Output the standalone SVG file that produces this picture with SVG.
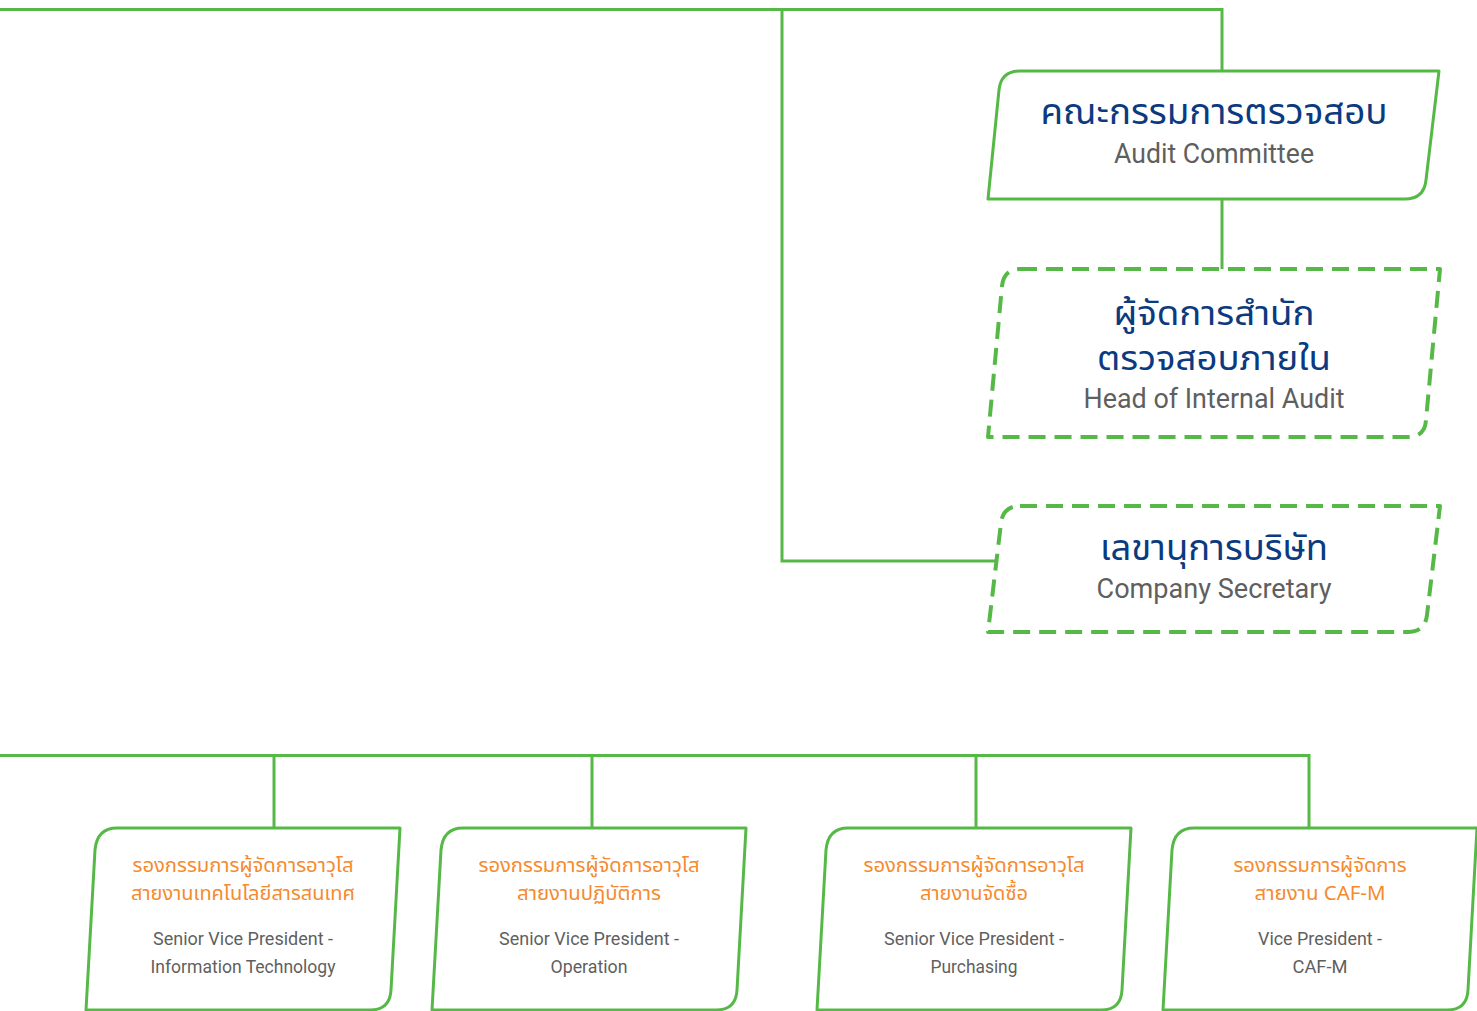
<svg xmlns="http://www.w3.org/2000/svg" width="1477" height="1011" viewBox="0 0 1477 1011">
<defs>
<style>
.box{fill:#ffffff;stroke:#56B947;stroke-width:3;stroke-linejoin:round}
.dash{fill:#ffffff;stroke:#56B947;stroke-width:4;stroke-dasharray:17 9;stroke-linejoin:round}
.conn{fill:none;stroke:#56B947;stroke-width:3}
.th{font-family:"Noto Sans Thai","Noto Sans","DejaVu Sans",sans-serif;fill:#0B3A80;text-anchor:middle}
.en{font-family:"Roboto","Liberation Sans",sans-serif;fill:#5F5F5F;text-anchor:middle}
.or{font-family:"Noto Sans Thai","Noto Sans","DejaVu Sans",sans-serif;fill:#F58A2E;text-anchor:middle;font-size:20px}
.sm{font-family:"Roboto","Liberation Sans",sans-serif;fill:#5F5F5F;text-anchor:middle;font-size:18px}
</style>
</defs>
<rect width="1477" height="1011" fill="#ffffff"/>
<g id="connectors">
<path class="conn" d="M0,9.5 H1222 V71"/>
<path class="conn" d="M782,9.5 V561 H998"/>
<path class="conn" d="M1222,199 V270"/>
<path class="conn" d="M0,755.5 H1309 V828"/>
<path class="conn" d="M274,755 V828"/>
<path class="conn" d="M592,755 V828"/>
<path class="conn" d="M976,755 V828"/>
</g>
<g id="audit-committee">
<path class="box" d="M1020,71 H1439 L1426,180 Q1424,199 1405,199 H988 L999,90 Q1001,71 1020,71 Z"/>
<text class="th" x="1214" y="124" font-size="35" textLength="347" lengthAdjust="spacingAndGlyphs">คณะกรรมการตรวจสอบ</text>
<text class="en" x="1214" y="163" font-size="27" textLength="200" lengthAdjust="spacingAndGlyphs">Audit Committee</text>
</g>
<g id="head-internal-audit">
<path class="dash" d="M1020,269 H1440 L1426,420 Q1425,437 1408,437 H988 L1002,286 Q1004,269 1020,269 Z"/>
<text class="th" x="1214" y="325" font-size="33" textLength="201" lengthAdjust="spacingAndGlyphs">ผู้จัดการสำนัก</text>
<text class="th" x="1214" y="370" font-size="33" textLength="234" lengthAdjust="spacingAndGlyphs">ตรวจสอบภายใน</text>
<text class="en" x="1214" y="408" font-size="27" textLength="261" lengthAdjust="spacingAndGlyphs">Head of Internal Audit</text>
</g>
<g id="company-secretary">
<path class="dash" d="M1020,506 H1440 L1427,615 Q1425,632 1408,632 H988 L1001,523 Q1003,506 1020,506 Z"/>
<text class="th" x="1214" y="560" font-size="35" textLength="228" lengthAdjust="spacingAndGlyphs">เลขานุการบริษัท</text>
<text class="en" x="1214" y="598" font-size="27" textLength="235" lengthAdjust="spacingAndGlyphs">Company Secretary</text>
</g>
<g id="svp-it">
<path class="box" d="M117,828 H400 L391,990 Q390,1010 370,1010 H86 L95,850 Q97,828 117,828 Z"/>
<text class="or" x="243" y="872" textLength="221" lengthAdjust="spacingAndGlyphs">รองกรรมการผู้จัดการอาวุโส</text>
<text class="or" x="243" y="900" textLength="224" lengthAdjust="spacingAndGlyphs">สายงานเทคโนโลยีสารสนเทศ</text>
<text class="sm" x="243" y="945" textLength="180" lengthAdjust="spacingAndGlyphs">Senior Vice President -</text>
<text class="sm" x="243" y="973" textLength="185" lengthAdjust="spacingAndGlyphs">Information Technology</text>
</g>
<g id="svp-operation">
<path class="box" d="M463,828 H746 L737,990 Q736,1010 716,1010 H432 L441,850 Q443,828 463,828 Z"/>
<text class="or" x="589" y="872" textLength="221" lengthAdjust="spacingAndGlyphs">รองกรรมการผู้จัดการอาวุโส</text>
<text class="or" x="589" y="900" textLength="144" lengthAdjust="spacingAndGlyphs">สายงานปฏิบัติการ</text>
<text class="sm" x="589" y="945" textLength="180" lengthAdjust="spacingAndGlyphs">Senior Vice President -</text>
<text class="sm" x="589" y="973" textLength="77" lengthAdjust="spacingAndGlyphs">Operation</text>
</g>
<g id="svp-purchasing">
<path class="box" d="M848,828 H1131 L1122,990 Q1121,1010 1101,1010 H817 L826,850 Q828,828 848,828 Z"/>
<text class="or" x="974" y="872" textLength="221" lengthAdjust="spacingAndGlyphs">รองกรรมการผู้จัดการอาวุโส</text>
<text class="or" x="974" y="900" textLength="108" lengthAdjust="spacingAndGlyphs">สายงานจัดซื้อ</text>
<text class="sm" x="974" y="945" textLength="180" lengthAdjust="spacingAndGlyphs">Senior Vice President -</text>
<text class="sm" x="974" y="973" textLength="87" lengthAdjust="spacingAndGlyphs">Purchasing</text>
</g>
<g id="vp-caf-m">
<path class="box" d="M1194,828 H1477 L1468,990 Q1467,1010 1447,1010 H1163 L1172,850 Q1174,828 1194,828 Z"/>
<text class="or" x="1320" y="872" textLength="173" lengthAdjust="spacingAndGlyphs">รองกรรมการผู้จัดการ</text>
<text class="or" x="1320" y="900" textLength="131" lengthAdjust="spacingAndGlyphs">สายงาน CAF-M</text>
<text class="sm" x="1320" y="945" textLength="124" lengthAdjust="spacingAndGlyphs">Vice President -</text>
<text class="sm" x="1320" y="973" textLength="55" lengthAdjust="spacingAndGlyphs">CAF-M</text>
</g>
</svg>
